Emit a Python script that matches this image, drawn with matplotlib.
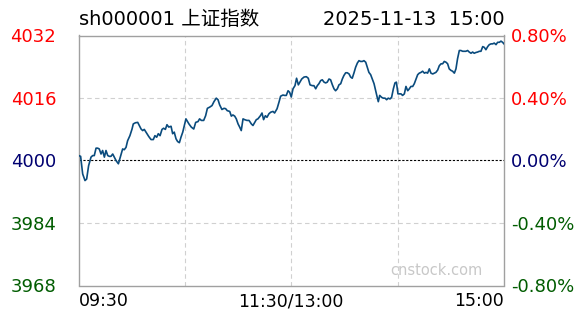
import matplotlib
matplotlib.use("Agg")
import matplotlib.pyplot as plt

plt.rcParams['font.family'] = ['DejaVu Sans', 'Noto Sans CJK SC']

symbol = "sh000001 上证指数"
stamp = "2025-11-13  15:00"
prev_close = 4000.14

# minutes since 09:30 (lunch break removed) and index level
minutes = [
    0.1, 1.2, 2.35, 3.67, 4.6, 5.7, 7.05, 8.0, 8.9, 9.9, 10.8, 11.7, 12.7, 13.6,
    14.6, 15.5, 16.5, 17.4, 18.3, 19.3, 20.2, 21.2, 22.5, 23.6, 24.9, 25.8, 26.8,
    27.7, 29.0, 30.2, 30.9, 32.1, 33.4, 34.3, 35.3, 36.2, 37.1, 38.1, 39.6, 40.9,
    42.2, 43.1, 44.1, 45.0, 46.0, 47.1, 48.0, 49.0, 49.9, 50.9, 52.2, 53.1, 54.0,
    55.0, 55.9, 56.9, 57.8, 58.8, 59.7, 60.6, 62.3, 63.6, 65.0, 66.1, 67.4, 68.3,
    69.3, 70.6, 71.7, 72.7, 74.0, 75.3, 76.4, 77.7, 78.7, 79.6, 80.9, 82.1, 83.0,
    83.9, 85.3, 86.2, 87.1, 88.1, 89.0, 90.0, 90.9, 91.8, 92.8, 93.7, 95.0, 96.2,
    97.5, 98.4, 99.4, 100.3, 101.2, 102.6, 103.5, 104.4, 105.4, 106.3, 107.4,
    108.4, 109.7, 110.6, 112.0, 113.1, 114.0, 115.3, 116.3, 117.2, 118.2, 119.1,
    120.0, 121.0, 122.1, 123.0, 124.0, 124.9, 125.9, 127.2, 128.5, 129.6, 130.6,
    131.9, 132.8, 133.8, 134.7, 135.6, 136.6, 137.5, 138.5, 139.4, 140.3, 141.3,
    142.2, 143.2, 144.1, 145.0, 146.0, 146.9, 147.9, 148.8, 149.7, 150.7, 151.6,
    152.6, 153.5, 154.4, 155.4, 156.3, 157.3, 158.2, 159.1, 160.1, 161.0, 162.0,
    162.9, 163.8, 164.8, 165.7, 166.7, 167.6, 168.5, 169.1, 169.9, 171.0, 171.9,
    172.9, 173.8, 174.7, 175.7, 176.6, 177.6, 178.5, 179.3, 180.2, 181.1, 181.9,
    182.8, 183.8, 184.7, 185.7, 186.6, 187.5, 188.5, 189.4, 190.4, 191.3, 192.2,
    193.2, 194.1, 195.1, 196.0, 196.9, 197.9, 198.8, 199.8, 200.7, 201.6, 202.6,
    203.5, 204.5, 205.4, 206.3, 207.3, 208.2, 209.1, 210.1, 211.0, 212.0, 212.9,
    213.8, 214.8, 215.7, 216.7, 217.6, 218.5, 219.5, 220.4, 221.4, 222.3, 223.2,
    224.2, 225.1, 226.1, 227.0, 228.0, 228.9, 229.8, 230.8, 231.7, 232.7, 233.6,
    234.5, 235.5, 236.4, 237.4, 238.3, 239.2, 240.0,
]
prices = [
    4001.4, 4001.2, 3996.7, 3995.0, 3995.4, 3998.8, 4001.0, 4001.4, 4001.4, 4003.3,
    4003.3, 4003.1, 4001.8, 4002.7, 4001.0, 4002.7, 4001.4, 4001.2, 4001.2, 4001.8,
    4001.0, 4000.1, 3999.3, 4001.0, 4003.1, 4002.9, 4003.5, 4005.2, 4006.5, 4008.2,
    4009.5, 4009.8, 4009.9, 4009.1, 4008.2, 4007.8, 4008.1, 4007.4, 4006.3, 4005.5,
    4005.5, 4006.5, 4006.1, 4007.0, 4006.5, 4008.1, 4008.4, 4008.1, 4009.3, 4008.7,
    4008.9, 4007.0, 4007.4, 4005.7, 4005.0, 4004.7, 4006.1, 4007.4, 4009.1, 4010.8,
    4009.5, 4008.7, 4008.2, 4009.9, 4010.1, 4010.8, 4010.4, 4010.4, 4011.6, 4013.5,
    4013.8, 4014.2, 4015.2, 4016.1, 4015.7, 4014.4, 4013.2, 4013.5, 4013.4, 4012.9,
    4012.7, 4011.5, 4011.8, 4011.5, 4010.8, 4009.5, 4008.7, 4007.8, 4010.8, 4010.6,
    4010.4, 4010.4, 4009.5, 4009.1, 4009.9, 4010.6, 4010.8, 4011.6, 4012.3, 4010.6,
    4011.6, 4011.2, 4012.1, 4012.5, 4012.7, 4012.3, 4013.4, 4015.1, 4016.6, 4016.9,
    4016.8, 4016.8, 4018.0, 4017.6, 4016.4, 4018.5, 4019.3, 4021.2, 4019.5, 4020.2,
    4021.0, 4021.5, 4021.6, 4021.2, 4019.5, 4019.3, 4019.3, 4018.5, 4019.3, 4019.8,
    4020.6, 4020.8, 4020.2, 4020.0, 4020.2, 4021.0, 4020.8, 4019.5, 4018.5, 4018.0,
    4018.5, 4019.5, 4019.8, 4021.0, 4021.9, 4022.6, 4022.6, 4022.3, 4021.5, 4021.2,
    4022.6, 4024.0, 4025.1, 4025.7, 4025.5, 4025.5, 4025.7, 4025.3, 4024.0, 4022.7,
    4022.1, 4021.0, 4019.8, 4018.0, 4016.3, 4015.2, 4016.8, 4016.3, 4016.1, 4016.1,
    4015.7, 4016.1, 4015.9, 4016.3, 4018.5, 4020.0, 4020.2, 4017.2, 4017.2, 4017.2,
    4016.8, 4017.2, 4019.1, 4018.0, 4018.5, 4019.1, 4019.1, 4019.8, 4021.0, 4022.1,
    4022.5, 4022.7, 4023.0, 4022.5, 4022.7, 4022.5, 4023.6, 4022.5, 4022.3, 4022.5,
    4022.7, 4023.3, 4024.4, 4024.9, 4024.9, 4025.5, 4025.3, 4024.9, 4023.6, 4023.2,
    4023.0, 4022.5, 4023.6, 4026.2, 4028.3, 4028.3, 4028.1, 4028.1, 4028.1, 4028.3,
    4027.9, 4027.6, 4027.9, 4027.6, 4027.8, 4027.9, 4028.1, 4028.1, 4029.3, 4029.1,
    4028.5, 4029.3, 4029.8, 4030.0, 4030.0, 4030.2, 4029.8, 4030.4, 4030.4, 4030.7,
    4030.4, 4030.0,
]

pct_ticks = [0.008, 0.004, 0.0, -0.004, -0.008]
tick_colors = ['#ff0000', '#ff0000', '#000070', '#005c00', '#005c00']
time_labels = ['09:30', '11:30/13:00', '15:00']

fig = plt.figure(figsize=(5.88, 3.24), dpi=100)
ax = fig.add_axes([78.5 / 588, 38.5 / 324, 425.5 / 588, 250 / 324])

lo = prev_close * (1 - 0.008)
hi = prev_close * (1 + 0.008)
ax.set_xlim(0, 240)
ax.set_ylim(lo, hi)

# grid
for m in [60, 120, 180]:
    ax.axvline(m, color='#d0d0d0', lw=0.8, ls=(0, (4, 3)), zorder=1)
for p in [0.004, -0.004]:
    ax.axhline(prev_close * (1 + p), color='#d0d0d0', lw=0.8, ls=(0, (4, 3)), zorder=1)
ax.axhline(prev_close, color='black', lw=0.8, ls=(0, (2, 1.5)), zorder=2)

ax.plot(minutes, prices, color='#0a4b7d', lw=1.2, zorder=3)

for s in ax.spines.values():
    s.set_color('#a0a0a0')
    s.set_linewidth(1.0)

levels = [prev_close * (1 + p) for p in pct_ticks]
ax.set_yticks(levels)
ax.set_yticklabels([f"{v:.0f}" for v in levels], fontsize=13)
for lbl, c in zip(ax.get_yticklabels(), tick_colors):
    lbl.set_color(c)
ax.tick_params(axis='y', length=0, pad=16)

ax2 = ax.twinx()
ax2.set_ylim(lo, hi)
ax2.set_yticks(levels)
ax2.set_yticklabels([f"{p * 100:.2f}%" for p in pct_ticks], fontsize=13)
for lbl, c in zip(ax2.get_yticklabels(), tick_colors):
    lbl.set_color(c)
ax2.tick_params(axis='y', length=0, pad=5)
for s in ax2.spines.values():
    s.set_visible(False)

ax.set_xticks([0, 120, 240])
ax.set_xticklabels(time_labels, fontsize=12.5)
xl = ax.get_xticklabels()
xl[0].set_ha('left')
xl[2].set_ha('right')
ax.tick_params(axis='x', length=0, pad=5)

fig.text(79 / 588, 1 - 19.5 / 324, symbol, fontsize=14, va='center', ha='left')
fig.text(505 / 588, 1 - 19.5 / 324, stamp, fontsize=14, va='center', ha='right')
ax.text(0.95, 0.06, 'cnstock.com', transform=ax.transAxes, fontsize=10.5,
        color='#c8c8c8', ha='right', va='center')

fig.savefig('out.png', dpi=100)
